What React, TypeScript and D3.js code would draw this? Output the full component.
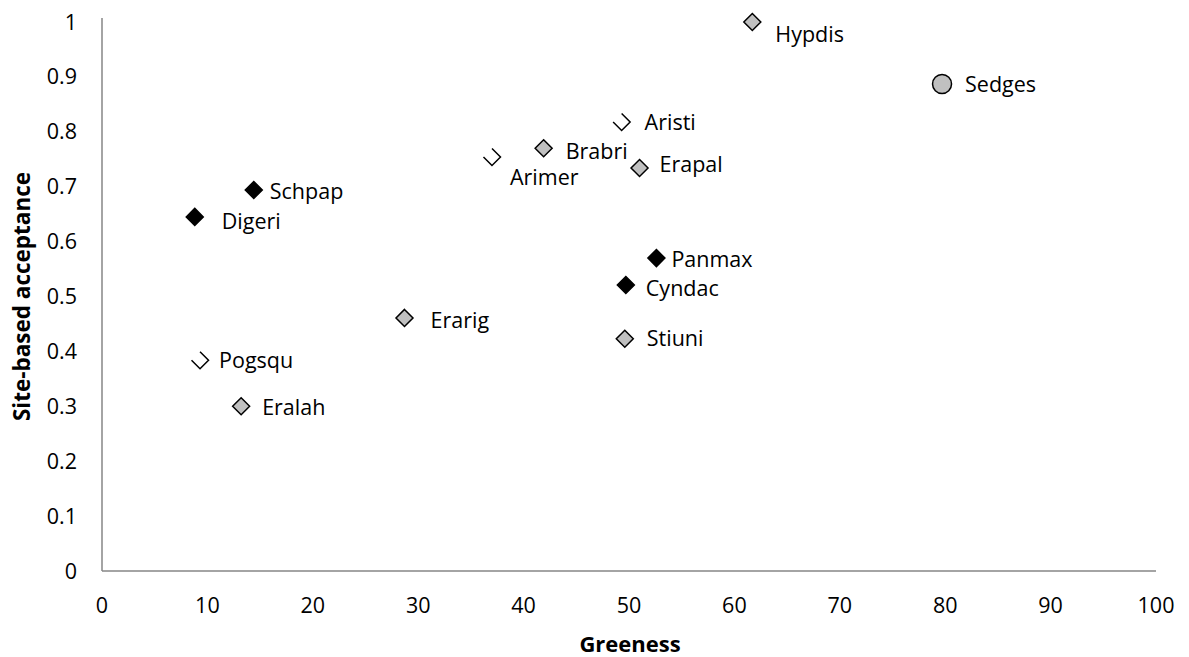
import React from "react";
import * as d3 from "d3";

// species codes, greeness (x) and site-based acceptance (y)
const names = ["Hypdis", "Sedges", "Aristi", "Brabri", "Arimer", "Erapal", "Schpap", "Digeri", "Panmax", "Cyndac", "Erarig", "Stiuni", "Pogsqu", "Eralah"];
const greeness = [61.7, 79.7, 49.3, 41.9, 37.0, 51.0, 14.4, 8.8, 52.6, 49.7, 28.7, 49.6, 9.3, 13.2];
const acceptance = [1.0, 0.887, 0.818, 0.77, 0.754, 0.734, 0.694, 0.645, 0.57, 0.521, 0.461, 0.423, 0.384, 0.3];
// marker group: black / grey / open / circle
const groups = ["grey", "circle", "open", "grey", "open", "grey", "black", "black", "black", "black", "grey", "grey", "open", "grey"];

const xTicks = [0, 10, 20, 30, 40, 50, 60, 70, 80, 90, 100];
const yTicks = [0, 0.1, 0.2, 0.3, 0.4, 0.5, 0.6, 0.7, 0.8, 0.9, 1];

// label offsets from the marker (layout only)
const labelOffset: Record<string, [number, number]> = {
  Hypdis: [23, 12],
  Sedges: [23, 0],
  Aristi: [23, 1],
  Brabri: [22, 3],
  Arimer: [18, 20],
  Erapal: [20, -4],
  Schpap: [16, 1],
  Digeri: [27, 5],
  Panmax: [15, 1],
  Cyndac: [20, 4],
  Erarig: [26, 3],
  Stiuni: [22, 0],
  Pogsqu: [19, 0],
  Eralah: [21, 1],
};

const W = 1189;
const H = 657;
const left = 102;
const right = 1156;
const top = 22;
const bottom = 571;
const font = "'Open Sans', Lato, sans-serif";
const fs = 21.5;

function Marker({ kind, cx, cy }: { kind: string; cx: number; cy: number }) {
  const r = 8.5;
  if (kind === "circle") {
    return <circle cx={cx} cy={cy} r={9.5} fill="#c0c0c0" stroke="#000" strokeWidth={1.5} />;
  }
  if (kind === "open") {
    const d = `M${cx},${cy - r}L${cx + r},${cy}L${cx},${cy + r}L${cx - r},${cy}`;
    return <path d={d} fill="none" stroke="#000" strokeWidth={1.5} />;
  }
  const d = `M${cx},${cy - r}L${cx + r},${cy}L${cx},${cy + r}L${cx - r},${cy}Z`;
  return (
    <path
      d={d}
      fill={kind === "black" ? "#000" : "#c0c0c0"}
      stroke="#000"
      strokeWidth={1.5}
    />
  );
}

export default function App() {
  const x = d3.scaleLinear().domain([0, 100]).range([left, right]);
  const y = d3.scaleLinear().domain([0, 1]).range([bottom, top]);
  const fmt = d3.format("~g");

  return (
    <svg
      width={W}
      height={H}
      style={{ position: "absolute", left: 0, top: 0, background: "#fff" }}
      fontFamily={font}
    >
      {/* axes */}
      <line x1={left} x2={left} y1={top - 4} y2={bottom} stroke="#868686" strokeWidth={1.5} />
      <line x1={left} x2={right} y1={bottom} y2={bottom} stroke="#868686" strokeWidth={1.5} />

      {yTicks.map((t) => (
        <text key={t} x={77} y={y(t)} dy="0.35em" textAnchor="end" fontSize={fs} fill="#000">
          {fmt(t)}
        </text>
      ))}
      {xTicks.map((t) => (
        <text key={t} x={x(t)} y={605} dy="0.35em" textAnchor="middle" fontSize={fs} fill="#000">
          {t}
        </text>
      ))}

      <text x={(left + right) / 2 + 1} y={644} dy="0.35em" textAnchor="middle" fontSize={22} fontWeight="bold">
        Greeness
      </text>
      <text
        transform={`translate(22,${(top + bottom) / 2}) rotate(-90)`}
        dy="0.35em"
        textAnchor="middle"
        fontSize={22.5}
        fontWeight="bold"
      >
        Site-based acceptance
      </text>

      {names.map((n, i) => {
        const cx = x(greeness[i]);
        const cy = y(acceptance[i]);
        const [dx, dy] = labelOffset[n];
        return (
          <g key={n}>
            <Marker kind={groups[i]} cx={cx} cy={cy} />
            <text x={cx + dx} y={cy + dy} dy="0.35em" fontSize={fs} fill="#000">
              {n}
            </text>
          </g>
        );
      })}
    </svg>
  );
}
